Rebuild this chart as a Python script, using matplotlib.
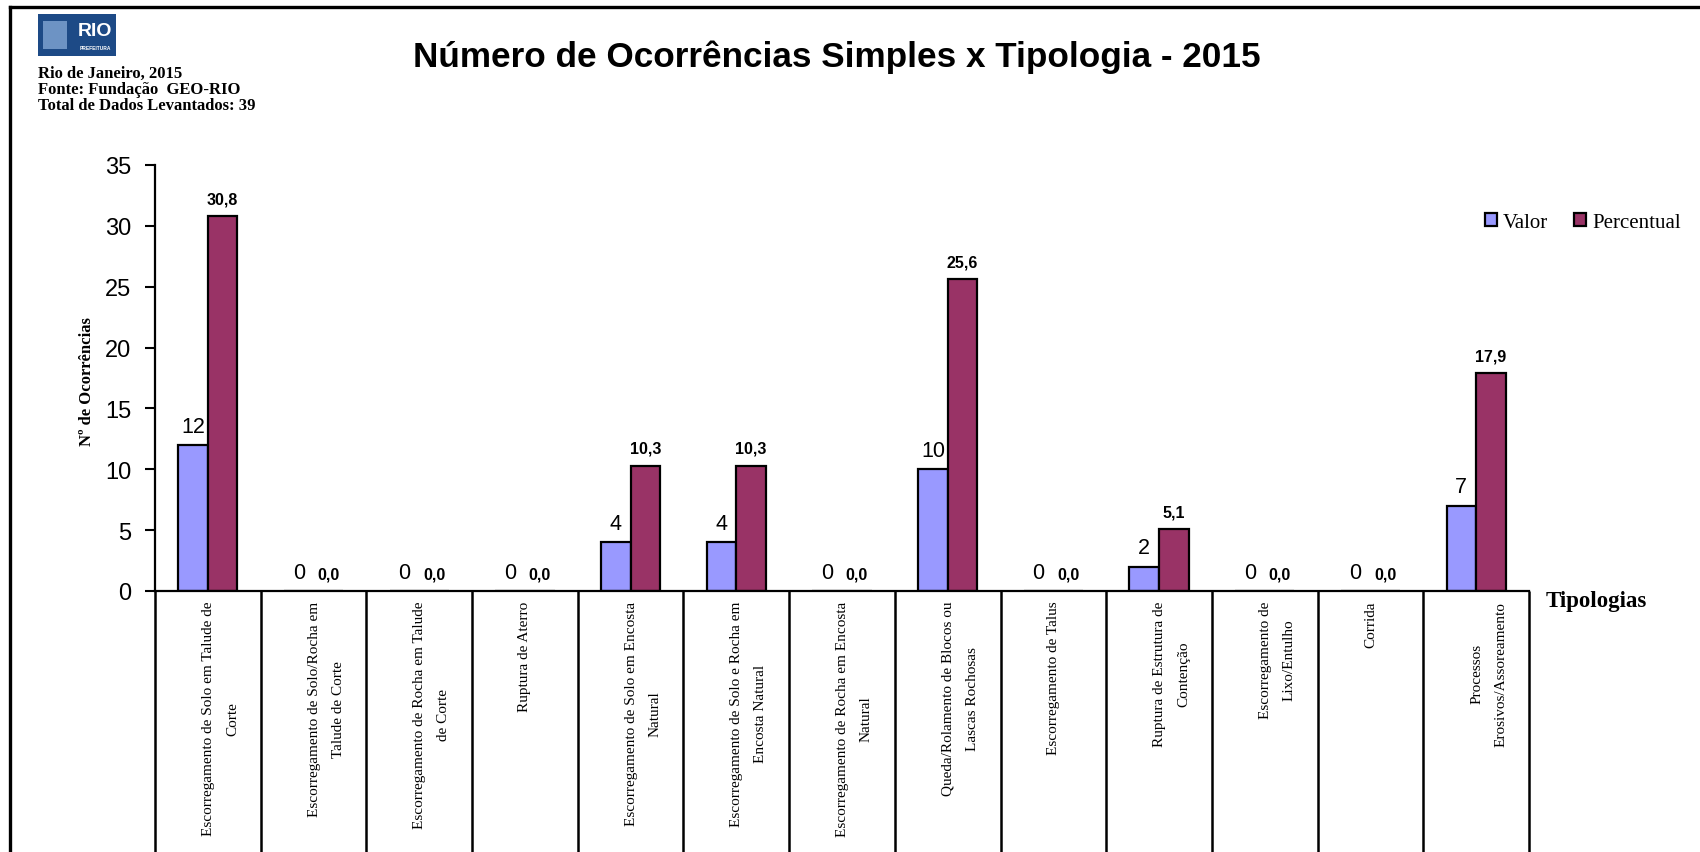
import matplotlib.pyplot as plt
import numpy as np
import matplotlib.transforms as mtransforms
from matplotlib.lines import Line2D
from matplotlib.patches import Rectangle

# Dados
categorias = [
    "Escorregamento de Solo em Talude de\nCorte",
    "Escorregamento de Solo/Rocha em\nTalude de Corte",
    "Escorregamento de Rocha em Talude\nde Corte",
    "Ruptura de Aterro",
    "Escorregamento de Solo em Encosta\nNatural",
    "Escorregamento de Solo e Rocha em\nEncosta Natural",
    "Escorregamento de Rocha em Encosta\nNatural",
    "Queda/Rolamento de Blocos ou\nLascas Rochosas",
    "Escorregamento de Talus",
    "Ruptura de Estrutura de\nContenção",
    "Escorregamento de\nLixo/Entulho",
    "Corrida",
    "Processos\nErosivos/Assoreamento",
]
valor = [12, 0, 0, 0, 4, 4, 0, 10, 0, 2, 0, 0, 7]
percentual = [30.8, 0.0, 0.0, 0.0, 10.3, 10.3, 0.0, 25.6, 0.0, 5.1, 0.0, 0.0, 17.9]

cor_valor = '#9999FF'
cor_perc = '#993366'

fig = plt.figure(figsize=(17, 8.53), dpi=100)
ax = fig.add_axes([0.0912, 0.306, 0.8082, 0.4994])

x = np.arange(len(categorias))
w = 0.28
ax.bar(x - w / 2, valor, w, color=cor_valor, edgecolor='black', linewidth=1.6, label='Valor')
ax.bar(x + w / 2, percentual, w, color=cor_perc, edgecolor='black', linewidth=1.6, label='Percentual')

# rótulos dos valores
for xi, v in zip(x, valor):
    ax.annotate(str(v), (xi - w / 2, v), xytext=(0, 6), textcoords='offset points',
                ha='center', va='bottom', fontsize=15.5, family='Liberation Sans')
for xi, p in zip(x, percentual):
    ax.annotate(f"{p:.1f}".replace('.', ','), (xi + w / 2, p), xytext=(0, 7), textcoords='offset points',
                ha='center', va='bottom', fontsize=11.5, fontweight='bold', family='Liberation Sans')

ax.set_xlim(-0.5, len(categorias) - 0.5)
ax.set_ylim(0, 35)
ax.set_yticks(np.arange(0, 36, 5))
ax.tick_params(axis='y', labelsize=17, length=7, width=1.5, pad=10)
for t in ax.get_yticklabels():
    t.set_family('Liberation Sans')

ax.set_xticks(x)
ax.set_xticklabels(categorias, rotation=90, family='Liberation Serif', fontsize=11)
ax.tick_params(axis='x', which='major', length=0, pad=7)
# rótulos de duas linhas: primeira linha no centro da categoria
desloc = mtransforms.ScaledTranslation(12.5 / 100, 0, fig.dpi_scale_trans)
for t in ax.get_xticklabels():
    t.set_linespacing(2.1)
    if '\n' in t.get_text():
        t.set_transform(t.get_transform() + desloc)
ax.set_xticks(np.arange(-0.5, len(categorias), 1), minor=True)
ax.tick_params(axis='x', which='minor', length=195, width=1.8, direction='out')

ax.spines['top'].set_visible(False)
ax.spines['right'].set_visible(False)
ax.spines['left'].set_linewidth(1.6)
ax.spines['bottom'].set_linewidth(1.6)

ax.legend(loc='center', bbox_to_anchor=(0.931, 0.738), bbox_transform=fig.transFigure,
          ncol=2, frameon=False, prop={'family': 'Liberation Serif', 'size': 15},
          handlelength=0.6, handleheight=0.6, handletextpad=0.3, columnspacing=1.2)

fig.text(0.051, 0.553, "Nº de Ocorrências", rotation=90, ha='center', va='center',
         family='Liberation Serif', fontweight='bold', fontsize=12)
fig.text(0.909, 0.295, "Tipologias", ha='left', va='center',
         family='Liberation Serif', fontweight='bold', fontsize=16.5)

# título e cabeçalho
fig.text(0.492, 0.933, "Número de Ocorrências Simples x Tipologia - 2015", ha='center', va='center',
         family='Liberation Sans', fontweight='bold', fontsize=25.3)
fig.text(38 / 1700, 1 - 74 / 853, "Rio de Janeiro, 2015", ha='left', va='center',
         family='Liberation Serif', fontweight='bold', fontsize=12)
fig.text(38 / 1700, 1 - 90 / 853, "Fonte: Fundação  GEO-RIO", ha='left', va='center',
         family='Liberation Serif', fontweight='bold', fontsize=12)
fig.text(38 / 1700, 1 - 106 / 853, "Total de Dados Levantados: 39", ha='left', va='center',
         family='Liberation Serif', fontweight='bold', fontsize=12)

# logo da prefeitura (aproximação)
fig.add_artist(Rectangle((38 / 1700, 1 - 57 / 853), 78 / 1700, 42 / 853,
                         transform=fig.transFigure, facecolor='#1d4a86', edgecolor='none'))
fig.text(95 / 1700, 1 - 32 / 853, "RIO", ha='center', va='center', color='white',
         family='Liberation Sans', fontweight='bold', fontsize=14)
fig.text(95 / 1700, 1 - 49 / 853, "PREFEITURA", ha='center', va='center', color='white',
         family='Liberation Sans', fontweight='bold', fontsize=3.5)
fig.add_artist(Rectangle((43 / 1700, 1 - 50 / 853), 24 / 1700, 28 / 853,
                         transform=fig.transFigure, facecolor='#6d93c4', edgecolor='none'))

# moldura
fig.add_artist(Line2D([10 / 1700, 1.0], [1 - 8 / 853, 1 - 8 / 853], transform=fig.transFigure,
                      color='black', linewidth=2.4))
fig.add_artist(Line2D([10 / 1700, 10 / 1700], [0, 1 - 8 / 853], transform=fig.transFigure,
                      color='black', linewidth=2.4))

fig.savefig('out.png', dpi=100)
